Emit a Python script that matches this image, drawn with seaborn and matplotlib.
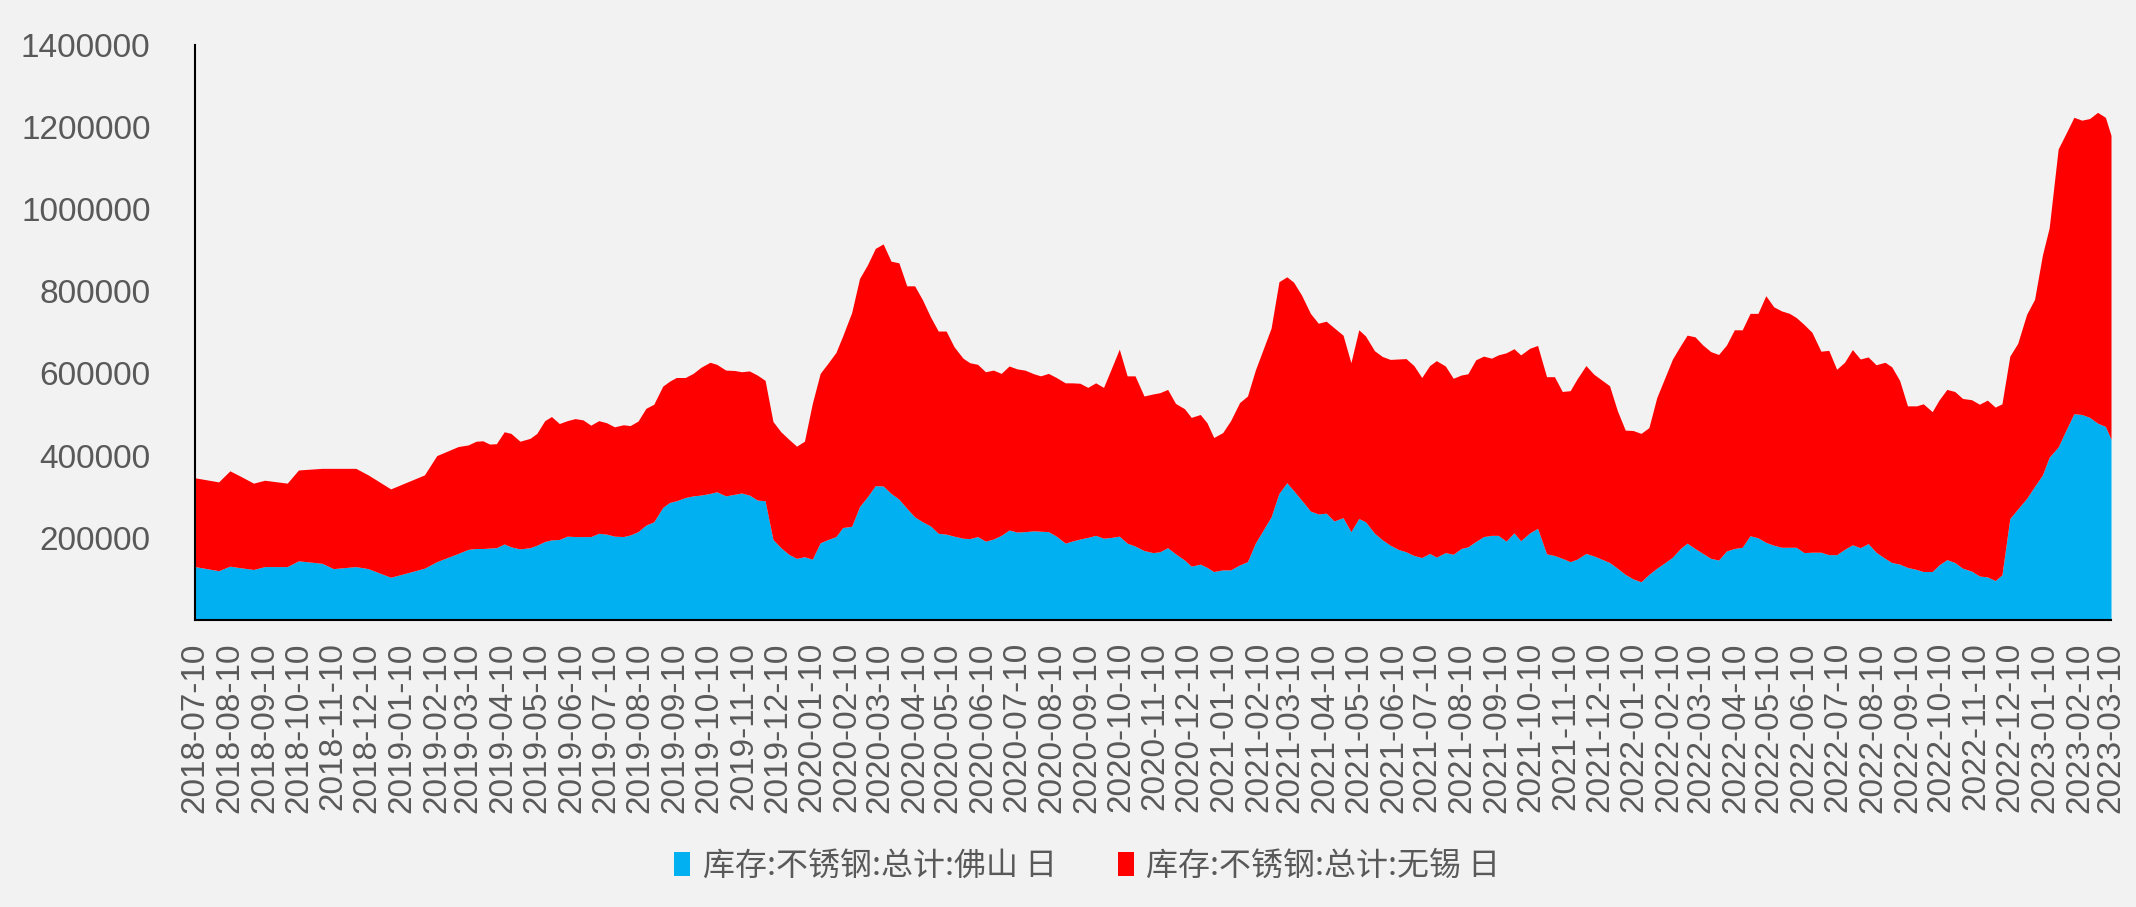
import pandas as pd
import matplotlib
matplotlib.use("Agg")
import matplotlib.pyplot as plt
import matplotlib.dates as mdates
from matplotlib.patches import Patch
import seaborn as sns

dates = [
    "2018-07-10", "2018-07-31", "2018-08-10", "2018-08-20", "2018-08-31", "2018-09-10",
    "2018-09-30", "2018-10-10", "2018-10-31", "2018-11-10", "2018-11-30", "2018-12-11",
    "2018-12-31", "2019-01-30", "2019-02-10", "2019-03-01", "2019-03-10", "2019-03-17",
    "2019-03-23", "2019-03-29", "2019-04-04", "2019-04-11", "2019-04-17", "2019-04-25",
    "2019-05-04", "2019-05-10", "2019-05-17", "2019-05-23", "2019-05-30", "2019-06-06",
    "2019-06-13", "2019-06-20", "2019-06-27", "2019-07-04", "2019-07-11", "2019-07-18",
    "2019-07-26", "2019-08-01", "2019-08-08", "2019-08-15", "2019-08-22", "2019-08-30",
    "2019-09-05", "2019-09-11", "2019-09-19", "2019-09-26", "2019-10-03", "2019-10-11",
    "2019-10-17", "2019-10-25", "2019-11-02", "2019-11-08", "2019-11-15", "2019-11-22",
    "2019-11-29", "2019-12-06", "2019-12-13", "2019-12-20", "2019-12-27", "2020-01-03",
    "2020-01-10", "2020-01-17", "2020-01-24", "2020-01-31", "2020-02-06", "2020-02-14",
    "2020-02-21", "2020-02-28", "2020-03-06", "2020-03-13", "2020-03-20", "2020-03-27",
    "2020-04-03", "2020-04-10", "2020-04-17", "2020-04-24", "2020-05-01", "2020-05-08",
    "2020-05-15", "2020-05-23", "2020-05-29", "2020-06-05", "2020-06-12", "2020-06-19",
    "2020-06-26", "2020-07-03", "2020-07-10", "2020-07-17", "2020-07-25", "2020-07-31",
    "2020-08-07", "2020-08-14", "2020-08-22", "2020-08-28", "2020-09-04", "2020-09-11",
    "2020-09-18", "2020-09-25", "2020-10-02", "2020-10-09", "2020-10-16", "2020-10-23",
    "2020-10-31", "2020-11-08", "2020-11-14", "2020-11-21", "2020-11-28", "2020-12-06",
    "2020-12-12", "2020-12-20", "2020-12-26", "2021-01-01", "2021-01-09", "2021-01-16",
    "2021-01-24", "2021-01-31", "2021-02-07", "2021-02-14", "2021-02-21", "2021-02-28",
    "2021-03-07", "2021-03-13", "2021-03-20", "2021-03-28", "2021-04-04", "2021-04-11",
    "2021-04-18", "2021-04-26", "2021-05-03", "2021-05-10", "2021-05-16", "2021-05-24",
    "2021-05-31", "2021-06-07", "2021-06-14", "2021-06-21", "2021-06-28", "2021-07-05",
    "2021-07-12", "2021-07-18", "2021-07-26", "2021-08-02", "2021-08-09", "2021-08-15",
    "2021-08-22", "2021-08-29", "2021-09-05", "2021-09-11", "2021-09-18", "2021-09-25",
    "2021-10-01", "2021-10-09", "2021-10-16", "2021-10-24", "2021-10-31", "2021-11-07",
    "2021-11-14", "2021-11-20", "2021-11-28", "2021-12-05", "2021-12-12", "2021-12-19",
    "2021-12-26", "2022-01-02", "2022-01-09", "2022-01-16", "2022-01-23", "2022-01-30",
    "2022-02-06", "2022-02-13", "2022-02-20", "2022-02-26", "2022-03-05", "2022-03-12",
    "2022-03-19", "2022-03-26", "2022-04-02", "2022-04-09", "2022-04-16", "2022-04-23",
    "2022-04-30", "2022-05-07", "2022-05-14", "2022-05-21", "2022-05-28", "2022-06-03",
    "2022-06-10", "2022-06-17", "2022-06-25", "2022-07-02", "2022-07-09", "2022-07-16",
    "2022-07-23", "2022-07-30", "2022-08-06", "2022-08-13", "2022-08-21", "2022-08-27",
    "2022-09-03", "2022-09-10", "2022-09-18", "2022-09-24", "2022-10-02", "2022-10-08",
    "2022-10-15", "2022-10-22", "2022-10-29", "2022-11-06", "2022-11-13", "2022-11-20",
    "2022-11-27", "2022-12-03", "2022-12-10", "2022-12-17", "2022-12-25", "2023-01-01",
    "2023-01-08", "2023-01-14", "2023-01-22", "2023-01-29", "2023-02-05", "2023-02-12",
    "2023-02-19", "2023-02-26", "2023-03-05", "2023-03-10",
]

foshan = [
    130000, 120000, 131000, 127000, 123000, 130000, 130000, 144000, 138000, 125000, 130000, 125000,
    104000, 126000, 142000, 162000, 172000, 174000, 174000, 175000, 176000, 185000, 178000, 173000,
    176000, 182000, 191000, 195000, 196000, 204000, 203000, 203000, 203000, 211000, 209000, 204000,
    203000, 207000, 215000, 231000, 239000, 274000, 286000, 290000, 298000, 302000, 304000, 308000,
    312000, 302000, 306000, 309000, 304000, 292000, 290000, 196000, 176000, 160000, 150000, 154000,
    148000, 188000, 196000, 203000, 225000, 228000, 276000, 300000, 327000, 326000, 308000, 294000,
    272000, 251000, 239000, 229000, 211000, 209000, 204000, 199000, 198000, 203000, 192000, 197000,
    206000, 219000, 214000, 215000, 217000, 216000, 215000, 204000, 187000, 192000, 197000, 201000,
    206000, 199000, 201000, 204000, 187000, 180000, 169000, 164000, 166000, 176000, 161000, 146000,
    131000, 136000, 128000, 118000, 122000, 122000, 134000, 142000, 187000, 219000, 251000, 308000,
    334000, 315000, 292000, 265000, 258000, 260000, 241000, 249000, 215000, 247000, 239000, 211000,
    195000, 182000, 172000, 166000, 157000, 152000, 162000, 153000, 164000, 160000, 174000, 178000,
    191000, 203000, 206000, 206000, 192000, 212000, 193000, 212000, 223000, 161000, 157000, 150000,
    142000, 148000, 162000, 156000, 148000, 140000, 126000, 111000, 100000, 93000, 111000, 126000,
    139000, 153000, 174000, 187000, 174000, 162000, 150000, 146000, 168000, 174000, 177000, 205000,
    200000, 189000, 182000, 177000, 177000, 177000, 164000, 165000, 165000, 159000, 159000, 172000,
    183000, 176000, 186000, 165000, 150000, 140000, 136000, 128000, 123000, 118000, 118000, 134000,
    147000, 140000, 126000, 119000, 107000, 105000, 96000, 110000, 247000, 270000, 296000, 325000,
    353000, 396000, 421000, 462000, 502000, 500000, 493000, 479000, 471000, 440000,
]

wuxi = [
    216000, 216000, 232000, 222000, 210000, 210000, 203000, 221000, 231000, 244000, 239000, 228000,
    215000, 227000, 258000, 260000, 254000, 261000, 262000, 253000, 253000, 273000, 276000, 262000,
    266000, 272000, 294000, 300000, 282000, 281000, 287000, 284000, 271000, 274000, 271000, 266000,
    272000, 266000, 269000, 284000, 286000, 295000, 295000, 300000, 292000, 298000, 311000, 319000,
    310000, 306000, 301000, 295000, 302000, 304000, 293000, 287000, 282000, 280000, 273000, 281000,
    379000, 412000, 429000, 448000, 466000, 520000, 555000, 564000, 577000, 589000, 565000, 575000,
    541000, 562000, 540000, 509000, 492000, 494000, 461000, 438000, 428000, 419000, 412000, 411000,
    394000, 399000, 397000, 393000, 382000, 378000, 385000, 386000, 390000, 385000, 379000, 365000,
    371000, 367000, 411000, 455000, 407000, 414000, 376000, 386000, 387000, 385000, 366000, 368000,
    362000, 364000, 352000, 326000, 334000, 363000, 395000, 403000, 421000, 440000, 459000, 515000,
    501000, 507000, 499000, 481000, 464000, 467000, 470000, 444000, 411000, 459000, 452000, 444000,
    446000, 452000, 463000, 470000, 462000, 438000, 457000, 478000, 454000, 428000, 422000, 421000,
    442000, 439000, 431000, 439000, 458000, 448000, 452000, 449000, 445000, 431000, 435000, 406000,
    416000, 438000, 457000, 442000, 436000, 430000, 383000, 351000, 361000, 361000, 357000, 415000,
    449000, 482000, 493000, 506000, 515000, 507000, 503000, 500000, 501000, 532000, 529000, 541000,
    546000, 600000, 580000, 575000, 569000, 559000, 555000, 535000, 489000, 497000, 451000, 455000,
    475000, 459000, 454000, 456000, 477000, 476000, 447000, 393000, 398000, 408000, 389000, 401000,
    414000, 416000, 413000, 417000, 418000, 430000, 422000, 416000, 395000, 403000, 448000, 455000,
    535000, 558000, 725000, 722000, 721000, 716000, 727000, 756000, 752000, 739000,
]

series_names = ["库存:不锈钢:总计:佛山 日", "库存:不锈钢:总计:无锡 日"]
series_colors = ["#00B0F0", "#FF0000"]
y_ticks = [200000, 400000, 600000, 800000, 1000000, 1200000, 1400000]

df = pd.DataFrame({"date": pd.to_datetime(dates), "foshan": foshan, "wuxi": wuxi})

sns.set_theme(style="white")
plt.rcParams["font.family"] = ["Liberation Sans", "Noto Sans CJK SC", "DejaVu Sans"]

bg = "#f2f2f2"
fig = plt.figure(figsize=(21.36, 9.07), dpi=100, facecolor=bg)
ax = fig.add_axes([0.0913, 0.3164, 0.8970, 0.6345])
ax.set_facecolor(bg)

ax.stackplot(df["date"], df["foshan"], df["wuxi"], colors=series_colors, linewidth=0)

ax.set_xlim(pd.Timestamp("2018-07-10"), pd.Timestamp("2023-03-10"))
ax.set_ylim(0, 1400000)
ax.set_yticks(y_ticks)
ax.set_yticklabels([str(v) for v in y_ticks])

ax.xaxis.set_major_locator(mdates.MonthLocator(bymonthday=10))
ax.xaxis.set_major_formatter(mdates.DateFormatter("%Y-%m-%d"))
ax.tick_params(axis="x", direction="in", length=8, width=1.5, color="black",
               labelsize=24, labelcolor="#595959", pad=16, labelrotation=90)
ax.tick_params(axis="y", direction="in", length=8, width=1.5, color="black",
               labelsize=24, labelcolor="#595959", pad=32)
for lab in ax.get_xticklabels():
    lab.set_verticalalignment("top")

sns.despine(ax=ax)
for side in ["left", "bottom"]:
    ax.spines[side].set_color("black")
    ax.spines[side].set_linewidth(1.5)
ax.grid(False)

handles = [Patch(facecolor=c, edgecolor="none") for c in series_colors]
fig.legend(handles, series_names, loc="center", bbox_to_anchor=(0.509, 1 - 866 / 907),
           ncol=2, frameon=False, handlelength=0.5, handleheight=0.8,
           handletextpad=0.4, columnspacing=1.9,
           prop={"family": ["Noto Sans CJK SC", "DejaVu Sans"], "size": 23})
for t in fig.legends[0].get_texts():
    t.set_color("#595959")

fig.savefig("out.png", dpi=100, facecolor=bg)
